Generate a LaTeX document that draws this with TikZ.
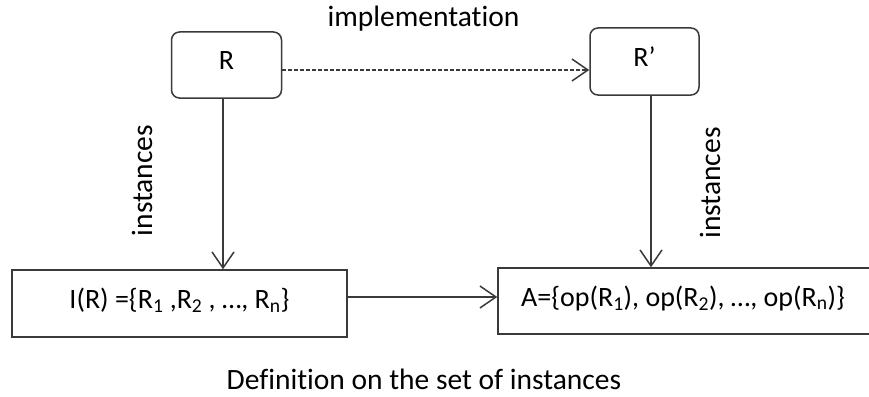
\documentclass[tikz,border=0pt]{standalone}
\usepackage{fontspec}
\setmainfont[Ligatures={NoCommon}]{Carlito}
\usetikzlibrary{arrows.meta}
\definecolor{linegray}{HTML}{3A3A3A}
\tikzset{
  txt/.style={font=\fontsize{29.5}{34}\selectfont, text=black, inner sep=0pt},
  boxtext/.style={txt, font=\fontsize{28}{32}\selectfont, text height=20pt, text depth=10pt},
  roundbox/.style={boxtext, draw=linegray, line width=1.5pt, rounded corners=8pt},
  setbox/.style={boxtext, draw=linegray, line width=1.5pt},
  conn/.style={draw=linegray, line width=1.5pt, -{Straight Barb[length=16pt,width=22pt,line width=1.5pt]}},
}
\begin{document}
\begin{tikzpicture}[x=1pt, y=-1pt]
  \useasboundingbox (0,0) rectangle (869,396);
  \clip (0,0) rectangle (869,396);

  % relation boxes
  \node[roundbox, minimum width=110pt, minimum height=66pt] (R) at (226.5,65) {R};
  \node[roundbox, minimum width=109pt, minimum height=67pt] (Rp) at (644.5,61.5) {R’};

  % sets of instances
  \node[setbox, minimum width=335pt, minimum height=67pt] (I) at (179.5,303.5)
    {I(R) =\{R\textsubscript{1} ,R\textsubscript{2} , …, R\textsubscript{n}\}};
  \node[setbox, minimum width=382pt, minimum height=66pt] (A) at (689,301)
    {\hspace*{-12pt}A=\{op(R\textsubscript{1}), op(R\textsubscript{2}), …, op(R\textsubscript{n})\}};

  % connectors
  \draw[conn, dashed, dash pattern=on 4pt off 2pt] ([yshift=-5pt]R.east) -- ([yshift=-5pt]R.east -| Rp.west);
  \draw[conn] ([xshift=-3.5pt]R.south) -- ([xshift=-3.5pt]R.south |- I.north);
  \draw[conn] ([xshift=6.5pt]Rp.south) -- ([xshift=6.5pt]Rp.south |- A.north);
  \draw[conn] ([yshift=6.5pt]I.east) -- ([yshift=6.5pt]I.east -| A.west);

  % labels
  \node[txt, anchor=base] (impl) at (423.5,27) {implementation};
  \node[txt, anchor=base, rotate=90] (instL) at (152,180.5) {instances};
  \node[txt, anchor=base, rotate=90] (instR) at (720,183) {instances};
  \node[txt, anchor=base] (caption) at (424,389) {Definition on the set of instances};
\end{tikzpicture}
\end{document}
